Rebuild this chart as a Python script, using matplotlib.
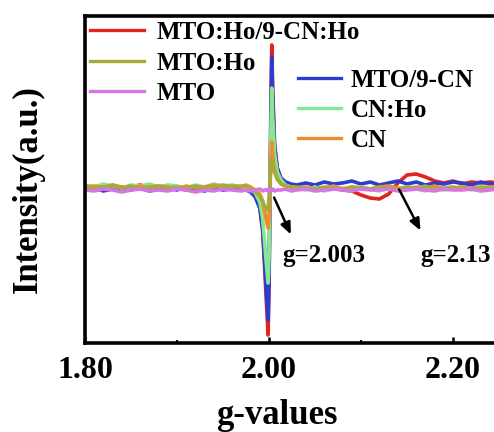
import matplotlib
matplotlib.use("Agg")
import matplotlib.pyplot as plt
from matplotlib.lines import Line2D
from matplotlib.ticker import MultipleLocator

# g-value sampling grid (dense around the g = 2.003 resonance)
g_values = [1.80, 1.81, 1.82, 1.83, 1.84, 1.85, 1.86, 1.87, 1.88, 1.89,
            1.90, 1.91, 1.92, 1.93, 1.94, 1.95, 1.96, 1.97,
            1.975, 1.980, 1.985, 1.990, 1.993, 1.995, 1.997, 1.999, 2.000,
            2.001, 2.002, 2.003, 2.004, 2.006, 2.009, 2.013, 2.018, 2.024,
            2.03, 2.04, 2.05, 2.06, 2.07, 2.08, 2.09, 2.10, 2.11, 2.12,
            2.13, 2.14, 2.15, 2.16, 2.17, 2.18, 2.19, 2.20, 2.21, 2.22,
            2.23, 2.24, 2.25]

# EPR intensity (a.u.) of each sample
mto_ho_9cn_ho = [1, -1, 2, 0, -2, 1, 3, 0, -1, 2, 0, -2, 1, 0, 2, -1, 1, 0,
                 -1, -3, -8, -20, -42, -75, -112, -147, -100, -15, 80, 143, 100, 45, 20, 9, 4, 1,
                 0, -1, 1, -2, 0, -2, -3, -7, -10, -11, -6, 5, 13, 14, 11, 7, 5, 7, 4, 6, 5, 6, 5]
mto_ho = [2, 0, 1, 3, 0, 2, -1, 1, 2, 0, 1, -1, 2, 0, 1, 3, 1, 2,
          2, -1, -4, -8, -13, -18, -22, -20, -10, 5, 20, 30, 26, 16, 9, 4, 2, 1,
          1, 0, -1, 1, 0, -2, 1, 0, -1, 1, 0, -1, 1, 0, 2, -1, 0, 1, -1, 0, 1, 0, -1]
mto = [-2, -3, -1, -2, -4, -2, -1, -3, -2, -3, -1, -2, -4, -2, -3, -1, -2, -3,
       -2, -3, -2, -1, -3, -2, -2, -3, -1, -2, -3, -2, -1, -3, -2, -2, -1, -3,
       -2, -1, -3, -2, -1, -2, -3, -1, -2, -2, -1, -3, -2, -1, -2, -3, -1, -2, -2, -1, -3, -2, -1]
mto_9cn = [-2, 0, -3, -1, 1, -2, 0, -3, -1, 0, -2, 1, -1, -3, 0, -2, -1, 0,
           -2, -4, -9, -20, -40, -70, -102, -132, -95, -12, 70, 131, 92, 42, 20, 10, 6, 4,
           3, 5, 3, 6, 4, 5, 7, 4, 6, 3, 5, 7, 4, 6, 3, 5, 4, 6, 5, 3, 6, 4, 5]
cn_ho = [3, 1, 4, 2, 0, 3, 2, 4, 1, 3, 2, 0, 3, 1, 4, 2, 3, 1,
         1, -1, -5, -14, -30, -52, -75, -95, -70, -8, 55, 100, 72, 35, 16, 8, 3, 1,
         0, -2, 1, -3, -1, 0, -2, 1, -1, -3, 0, -2, 1, -1, -3, 0, -2, -1, 1, -2, 0, -1, -2]
cn = [1, 2, 0, 3, 1, -1, 2, 0, 2, 1, -1, 2, 0, 1, 3, 0, 2, 1,
      3, 1, -2, -6, -13, -22, -32, -40, -28, 0, 25, 46, 35, 18, 9, 4, 2, 1,
      0, 1, -1, 0, 2, -1, 1, 0, -1, 1, 2, 0, -1, 1, 0, 2, -1, 0, 1, -1, 0, 1, 0]

labels_left = ["MTO:Ho/9-CN:Ho", "MTO:Ho", "MTO"]
labels_right = ["MTO/9-CN", "CN:Ho", "CN"]
x_ticks = [1.80, 2.00, 2.20]
x_tick_labels = ["1.80", "2.00", "2.20"]

colors = {
    "MTO:Ho/9-CN:Ho": "#e3211e",
    "MTO:Ho": "#a9a83c",
    "MTO": "#d676e2",
    "MTO/9-CN": "#2c3ccf",
    "CN:Ho": "#84e892",
    "CN": "#f08c2c",
}
series = {
    "MTO:Ho/9-CN:Ho": mto_ho_9cn_ho,
    "MTO/9-CN": mto_9cn,
    "CN:Ho": cn_ho,
    "CN": cn,
    "MTO:Ho": mto_ho,
    "MTO": mto,
}

plt.rcParams["font.family"] = ["Liberation Serif", "DejaVu Serif"]
plt.rcParams["font.weight"] = "bold"

fig = plt.figure(figsize=(4.94, 4.32), dpi=100)
ax = fig.add_axes([0.172, 0.206, 0.95, 0.757])

for name, vals in series.items():
    ax.plot(g_values, vals, color=colors[name], lw=2.6, solid_joinstyle="round")

ax.set_xlim(1.80, 2.310)
ax.set_ylim(-155, 172)

for side, sp in ax.spines.items():
    sp.set_linewidth(2.6)
    sp.set_color("black")

ax.set_yticks([])
ax.set_xticks(x_ticks)
ax.set_xticklabels(x_tick_labels, fontsize=23, fontweight="bold")
ax.xaxis.set_minor_locator(MultipleLocator(0.1))
ax.tick_params(axis="x", which="major", direction="in", length=4, width=1.8, pad=9)
ax.tick_params(axis="x", which="minor", direction="in", length=2.5, width=1.5)

ax.set_xlabel("g-values", fontsize=25, fontweight="bold")
ax.xaxis.set_label_coords(0.409, -0.172)
ax.set_ylabel("Intensity(a.u.)", fontsize=25, fontweight="bold")
ax.yaxis.set_label_coords(-0.085, 0.471)

def handles(names):
    return [Line2D([], [], color=colors[n], lw=2.4) for n in names]

legend_font = {"family": "Liberation Serif", "weight": "bold", "size": 18}
leg1 = ax.legend(handles(labels_left), labels_left, loc="upper left",
                 bbox_to_anchor=(90 / 494, 1 - 21 / 432), bbox_transform=fig.transFigure,
                 frameon=False, borderpad=0, borderaxespad=0, handlelength=2.15,
                 handletextpad=0.5, labelspacing=0.3, prop=legend_font)
ax.add_artist(leg1)
ax.legend(handles(labels_right), labels_right, loc="upper left",
          bbox_to_anchor=(298 / 494, 1 - 69 / 432), bbox_transform=fig.transFigure,
          frameon=False, borderpad=0, borderaxespad=0, handlelength=1.7,
          handletextpad=0.4, labelspacing=0.28, prop=legend_font)

arrow = dict(arrowstyle="-|>,head_length=0.7,head_width=0.3", color="black", lw=1.8)
ax.annotate("", xy=(2.025, -49), xytext=(2.0043, -7), arrowprops=arrow)
ax.annotate("", xy=(2.166, -45), xytext=(2.140, 1), arrowprops=arrow)
ax.text(2.014, -67, "g=2.003", fontsize=18, fontweight="bold", va="center", ha="left")
ax.text(2.164, -67, "g=2.13", fontsize=18, fontweight="bold", va="center", ha="left")

fig.savefig("out.png", dpi=100)
